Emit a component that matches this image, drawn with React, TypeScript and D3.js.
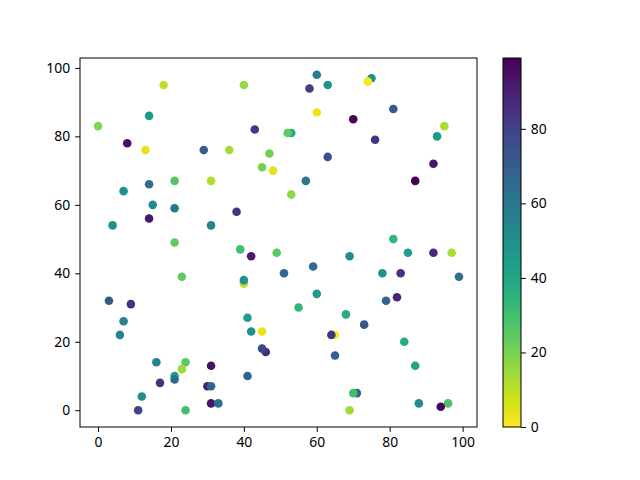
import { useRef, useEffect } from "react";
import * as d3 from "d3";

// scatter points: x, y and colour value
const xs = [
  18, 40, 14, 0, 43, 8, 13, 29, 36, 47, 45, 48, 14, 21, 31, 7, 15, 21, 38, 4,
  14, 31, 21, 39, 60, 63, 58, 75, 74, 60, 81, 70, 53, 52, 76, 95, 93, 63, 92, 87,
  57, 53, 81, 42, 49, 23, 40, 40, 51, 3, 9, 7, 6, 41, 42, 45, 46, 45, 16, 24,
  23, 31, 21, 21, 17, 41, 30, 31, 12, 11, 24, 31, 33, 69, 85, 92, 97, 59, 78, 83,
  99, 60, 79, 82, 55, 68, 73, 65, 64, 84, 65, 87, 71, 70, 69, 88, 96, 94,
];
const ys = [
  95, 95, 86, 83, 82, 78, 76, 76, 76, 75, 71, 70, 66, 67, 67, 64, 60, 59, 58, 54,
  56, 54, 49, 47, 98, 95, 94, 97, 96, 87, 88, 85, 81, 81, 79, 83, 80, 74, 72, 67,
  67, 63, 50, 45, 46, 39, 37, 38, 40, 32, 31, 26, 22, 27, 23, 23, 17, 18, 14, 14,
  12, 13, 10, 9, 8, 10, 7, 7, 4, 0, 0, 2, 2, 45, 46, 46, 46, 42, 40, 40,
  39, 34, 32, 33, 30, 28, 25, 22, 22, 20, 16, 13, 5, 5, 0, 2, 2, 1,
];
const colors = [
  9, 16, 46, 18, 82, 95, 4, 70, 13, 21, 21, 4, 63, 26, 11, 50, 52, 60, 85, 50,
  93, 54, 24, 30, 57, 48, 82, 50, 1, 3, 72, 98, 38, 24, 85, 12, 46, 74, 93, 99,
  60, 17, 34, 92, 25, 24, 10, 50, 66, 72, 85, 55, 55, 44, 50, 4, 88, 78, 55, 25,
  14, 95, 45, 64, 84, 68, 92, 68, 50, 80, 30, 93, 62, 50, 44, 88, 12, 65, 48, 85,
  63, 45, 68, 88, 34, 38, 72, 0, 84, 38, 70, 40, 68, 30, 14, 52, 28, 98,
];
const xTicks = [0, 20, 40, 60, 80, 100];
const yTicks = [0, 20, 40, 60, 80, 100];
const cTicks = [0, 20, 40, 60, 80];

export default function App() {
  const svgRef = useRef<SVGSVGElement>(null);

  useEffect(() => {
    if (!svgRef.current) return;
    const svg = d3.select(svgRef.current);
    svg.selectAll("*").remove();

    const font = "'Noto Sans', 'DejaVu Sans', sans-serif";
    const left = 80, right = 477, top = 58, bottom = 427;

    const xMin = d3.min(xs)!, xMax = d3.max(xs)!;
    const yMin = d3.min(ys)!, yMax = d3.max(ys)!;
    const xPad = (xMax - xMin) * 0.05, yPad = (yMax - yMin) * 0.05;
    const x = d3.scaleLinear().domain([xMin - xPad, xMax + xPad]).range([left, right]);
    const y = d3.scaleLinear().domain([yMin - yPad, yMax + yPad]).range([bottom, top]);

    const cMin = d3.min(colors)!, cMax = d3.max(colors)!;
    const color = (v: number) => d3.interpolateViridis(1 - (v - cMin) / (cMax - cMin));

    svg.append("rect").attr("width", 640).attr("height", 480).attr("fill", "#fff");

    // points
    svg.append("g")
      .selectAll("circle")
      .data(xs.map((d, i) => ({ x: d, y: ys[i], c: colors[i] })))
      .join("circle")
      .attr("cx", (d) => x(d.x))
      .attr("cy", (d) => y(d.y))
      .attr("r", 4.3)
      .attr("fill", (d) => color(d.c));

    // frame
    svg.append("rect")
      .attr("x", left).attr("y", top)
      .attr("width", right - left).attr("height", bottom - top)
      .attr("fill", "none").attr("stroke", "#000").attr("stroke-width", 1);

    const xAxis = svg.append("g").attr("transform", `translate(0,${bottom})`)
      .call(d3.axisBottom(x).tickValues(xTicks).tickSize(4.9).tickPadding(4.9));
    const yAxis = svg.append("g").attr("transform", `translate(${left},0)`)
      .call(d3.axisLeft(y).tickValues(yTicks).tickSize(4.9).tickPadding(4.9));
    [xAxis, yAxis].forEach((g) => {
      g.select(".domain").remove();
      g.selectAll("text").attr("font-family", font).attr("font-size", 13.9).attr("fill", "#000");
      g.selectAll("line").attr("stroke", "#000");
    });

    // colorbar
    const cbLeft = 503, cbRight = 521;
    const cy = d3.scaleLinear().domain([cMin, cMax]).range([bottom, top]);
    const defs = svg.append("defs");
    const grad = defs.append("linearGradient").attr("id", "cbar")
      .attr("x1", 0).attr("y1", 1).attr("x2", 0).attr("y2", 0);
    d3.range(0, 1.0001, 0.05).forEach((t) => {
      grad.append("stop").attr("offset", t).attr("stop-color", color(cMin + t * (cMax - cMin)));
    });
    svg.append("rect")
      .attr("x", cbLeft).attr("y", top)
      .attr("width", cbRight - cbLeft).attr("height", bottom - top)
      .attr("fill", "url(#cbar)").attr("stroke", "#000").attr("stroke-width", 1);
    const cAxis = svg.append("g").attr("transform", `translate(${cbRight},0)`)
      .call(d3.axisRight(cy).tickValues(cTicks).tickSize(4.9).tickPadding(4.9));
    cAxis.select(".domain").remove();
    cAxis.selectAll("text").attr("font-family", font).attr("font-size", 13.9).attr("fill", "#000");
    cAxis.selectAll("line").attr("stroke", "#000");
  }, []);

  return <svg ref={svgRef} width={640} height={480} style={{ display: "block", margin: "-8px" }} />;
}
